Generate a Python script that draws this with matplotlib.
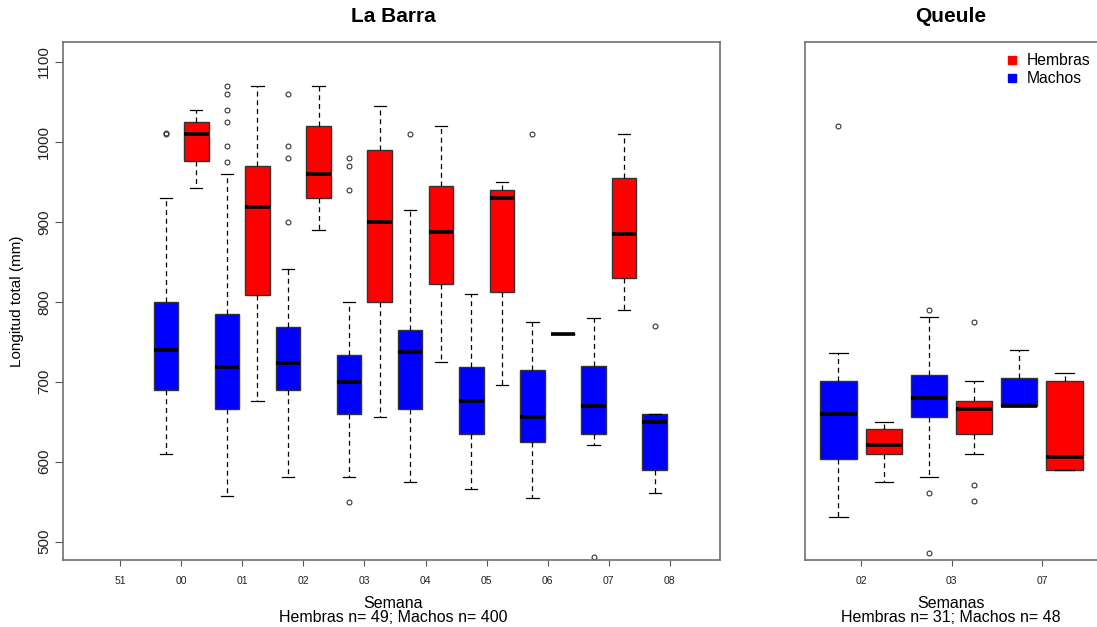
import matplotlib
matplotlib.use('Agg')
import matplotlib.pyplot as plt
from matplotlib.lines import Line2D

plt.rcParams['font.family'] = ['Liberation Sans', 'DejaVu Sans']

# La Barra
weeks_lb = ['51', '00', '01', '02', '03', '04', '05', '06', '07', '08']

# Machos (weeks 00..08)
m_lo = [610, 557, 581, 581, 575, 566, 555, 621, 561]
m_q1 = [690, 666, 690, 660, 666, 635, 625, 635, 590]
m_med = [740, 719, 723, 700, 737, 676, 656, 670, 650]
m_q3 = [800, 785, 769, 733, 765, 718, 715, 720, 660]
m_hi = [930, 960, 841, 800, 915, 810, 775, 780, 660]
m_out = [[1010, 1011], [1070, 1060, 1040, 1025, 995, 975], [1060, 995, 980, 900],
         [980, 970, 940, 550], [1010], [], [1010], [481], [770]]

# Hembras (weeks 00..07)
h_lo = [942, 676, 890, 656, 725, 696, 760, 790]
h_q1 = [976, 808, 930, 800, 822, 812, 760, 830]
h_med = [1010, 918, 960, 900, 887, 930, 760, 885]
h_q3 = [1025, 970, 1020, 990, 945, 940, 760, 955]
h_hi = [1040, 1070, 1070, 1045, 1020, 950, 760, 1010]
h_out = [[], [], [], [], [], [], [], []]

# Queule
weeks_q = ['02', '03', '07']
qm_lo = [531, 581, 670]
qm_q1 = [603, 656, 670]
qm_med = [660, 680, 670]
qm_q3 = [701, 708, 705]
qm_hi = [736, 781, 740]
qm_out = [[1020], [790, 561, 486], []]

qh_lo = [575, 610, 590]
qh_q1 = [610, 635, 590]
qh_med = [621, 666, 606]
qh_q3 = [641, 676, 701]
qh_hi = [650, 701, 711]
qh_out = [[], [775, 571, 551], []]


def stats(lo, q1, med, q3, hi, out):
    return [dict(whislo=a, q1=b, med=c, q3=d, whishi=e, fliers=f)
            for a, b, c, d, e, f in zip(lo, q1, med, q3, hi, out)]


def draw(ax, st, pos, color):
    ax.bxp(st, positions=pos, widths=0.4, capwidths=0.2, patch_artist=True,
           manage_ticks=False,
           boxprops=dict(facecolor=color, edgecolor='#333333', linewidth=1),
           medianprops=dict(color='black', linewidth=2.6, solid_capstyle='butt'),
           whiskerprops=dict(color='black', linewidth=0.9, linestyle=(0, (4, 3))),
           capprops=dict(color='black', linewidth=0.9),
           flierprops=dict(marker='o', markerfacecolor='none', markeredgecolor='#333333',
                           markersize=3.5, markeredgewidth=0.8))


def style(ax):
    for s in ax.spines.values():
        s.set_color('#707070')
        s.set_linewidth(1.2)
    ax.tick_params(axis='x', length=4.3, color='#555555', labelsize=7.5, pad=7,
                   labelcolor='#222222')


fig = plt.figure(figsize=(10.97, 6.27), dpi=100)
W, H = 1097, 627
ax1 = fig.add_axes([63 / W, 1 - 560 / H, 657 / W, 518 / H])
ax2 = fig.add_axes([805 / W, 1 - 560 / H, 293 / W, 518 / H])

pos_m = [i + 2 - 0.25 for i in range(len(m_med))]
pos_h = [i + 2 + 0.25 for i in range(len(h_med))]
draw(ax1, stats(m_lo, m_q1, m_med, m_q3, m_hi, m_out), pos_m, '#0000FF')
draw(ax1, stats(h_lo, h_q1, h_med, h_q3, h_hi, h_out), pos_h, '#FF0000')

ax1.set_xlim(0.067, 10.82)
ax1.set_ylim(477, 1125)
ax1.set_xticks(range(1, len(weeks_lb) + 1))
ax1.set_xticklabels(weeks_lb)
ax1.set_yticks([500, 600, 700, 800, 900, 1000, 1100])
ax1.tick_params(axis='y', length=5.5, color='#555555', labelsize=11, pad=3,
                labelrotation=90, labelcolor='#222222')
for lab in ax1.get_yticklabels():
    lab.set_va('center')
style(ax1)
ax1.set_ylabel('Longitud total (mm)', fontsize=11)
ax1.yaxis.set_label_coords(-39 / 657, 0.5)

pos_q = list(range(1, len(weeks_q) + 1))
draw(ax2, stats(qm_lo, qm_q1, qm_med, qm_q3, qm_hi, qm_out), [p - 0.25 for p in pos_q], '#0000FF')
draw(ax2, stats(qh_lo, qh_q1, qh_med, qh_q3, qh_hi, qh_out), [p + 0.25 for p in pos_q], '#FF0000')
ax2.set_xlim(0.38, 3.62)
ax2.set_ylim(477, 1125)
ax2.set_xticks(pos_q)
ax2.set_xticklabels(weeks_q)
ax2.set_yticks([])
style(ax2)
ax2.spines['right'].set_visible(False)

handles = [Line2D([], [], marker='s', color='#FF0000', linestyle='none', markersize=6),
           Line2D([], [], marker='s', color='#0000FF', linestyle='none', markersize=6)]
fig.legend(handles, ['Hembras', 'Machos'], loc='upper left',
           bbox_to_anchor=(1004 / W, 1 - 53 / H), bbox_transform=fig.transFigure,
           frameon=False, fontsize=11.3, handlelength=1.0, handletextpad=0.45,
           borderpad=0, borderaxespad=0, labelspacing=0.2)

fig.text(393 / W, 1 - 17 / H, 'La Barra', ha='center', va='center', fontsize=15, fontweight='bold')
fig.text(951 / W, 1 - 17 / H, 'Queule', ha='center', va='center', fontsize=15, fontweight='bold')
fig.text(393 / W, 1 - 603 / H, 'Semana', ha='center', va='center', fontsize=11.5)
fig.text(393 / W, 1 - 617 / H, 'Hembras n= 49; Machos n= 400', ha='center', va='center', fontsize=11.5)
fig.text(951 / W, 1 - 603 / H, 'Semanas', ha='center', va='center', fontsize=11.5)
fig.text(951 / W, 1 - 617 / H, 'Hembras n= 31; Machos n= 48', ha='center', va='center', fontsize=11.5)

fig.savefig('out.png', dpi=100)
